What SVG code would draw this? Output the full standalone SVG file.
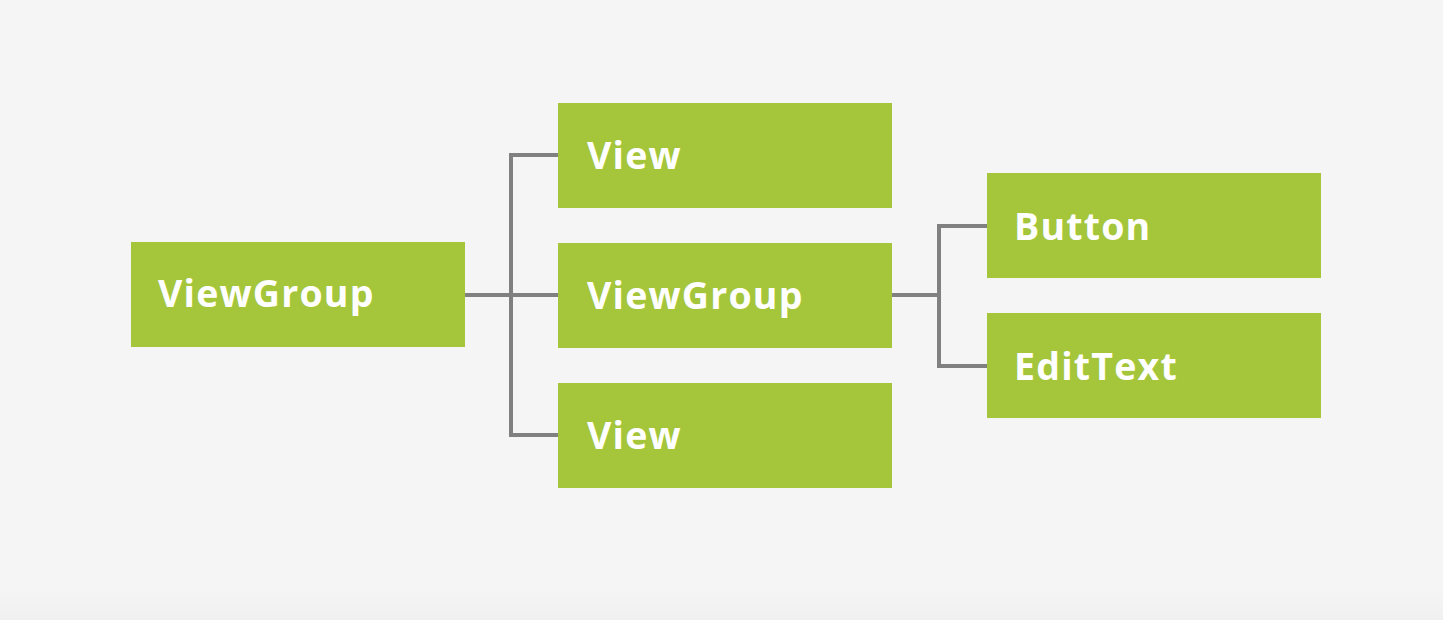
<svg xmlns="http://www.w3.org/2000/svg" width="1443" height="620" viewBox="0 0 1443 620">
<defs>
<linearGradient id="bg" x1="0" y1="0" x2="0" y2="1">
<stop offset="0" stop-color="#f5f5f5"/>
<stop offset="0.95" stop-color="#f5f5f5"/>
<stop offset="1" stop-color="#f0f0f0"/>
</linearGradient>
<style>
.box{fill:#a5c63b;}
.lbl{fill:#ffffff;font-family:"Open Sans","DejaVu Sans",sans-serif;font-weight:700;font-size:37.5px;letter-spacing:1.2px;}
.conn{fill:none;stroke:#808080;stroke-width:4;}
</style>
</defs>
<rect x="0" y="0" width="1443" height="620" fill="url(#bg)"/>
<g id="connectors">
<path class="conn" d="M465 295 H558 M558 155 H511 V435 H558"/>
<path class="conn" d="M892 295 H939 M987 226 H939 V366 H987"/>
</g>
<g id="root-viewgroup"><rect class="box" x="131" y="242" width="334" height="105"/><text class="lbl" x="158" y="307">ViewGroup</text></g>
<g id="view-1"><rect class="box" x="558" y="103" width="334" height="105"/><text class="lbl" x="587" y="169">View</text></g>
<g id="viewgroup-2"><rect class="box" x="558" y="243" width="334" height="105"/><text class="lbl" x="587" y="309">ViewGroup</text></g>
<g id="view-2"><rect class="box" x="558" y="383" width="334" height="105"/><text class="lbl" x="587" y="449">View</text></g>
<g id="button"><rect class="box" x="987" y="173" width="334" height="105"/><text class="lbl" x="1014" y="240">Button</text></g>
<g id="edittext"><rect class="box" x="987" y="313" width="334" height="105"/><text class="lbl" x="1014" y="380">EditText</text></g>
</svg>
